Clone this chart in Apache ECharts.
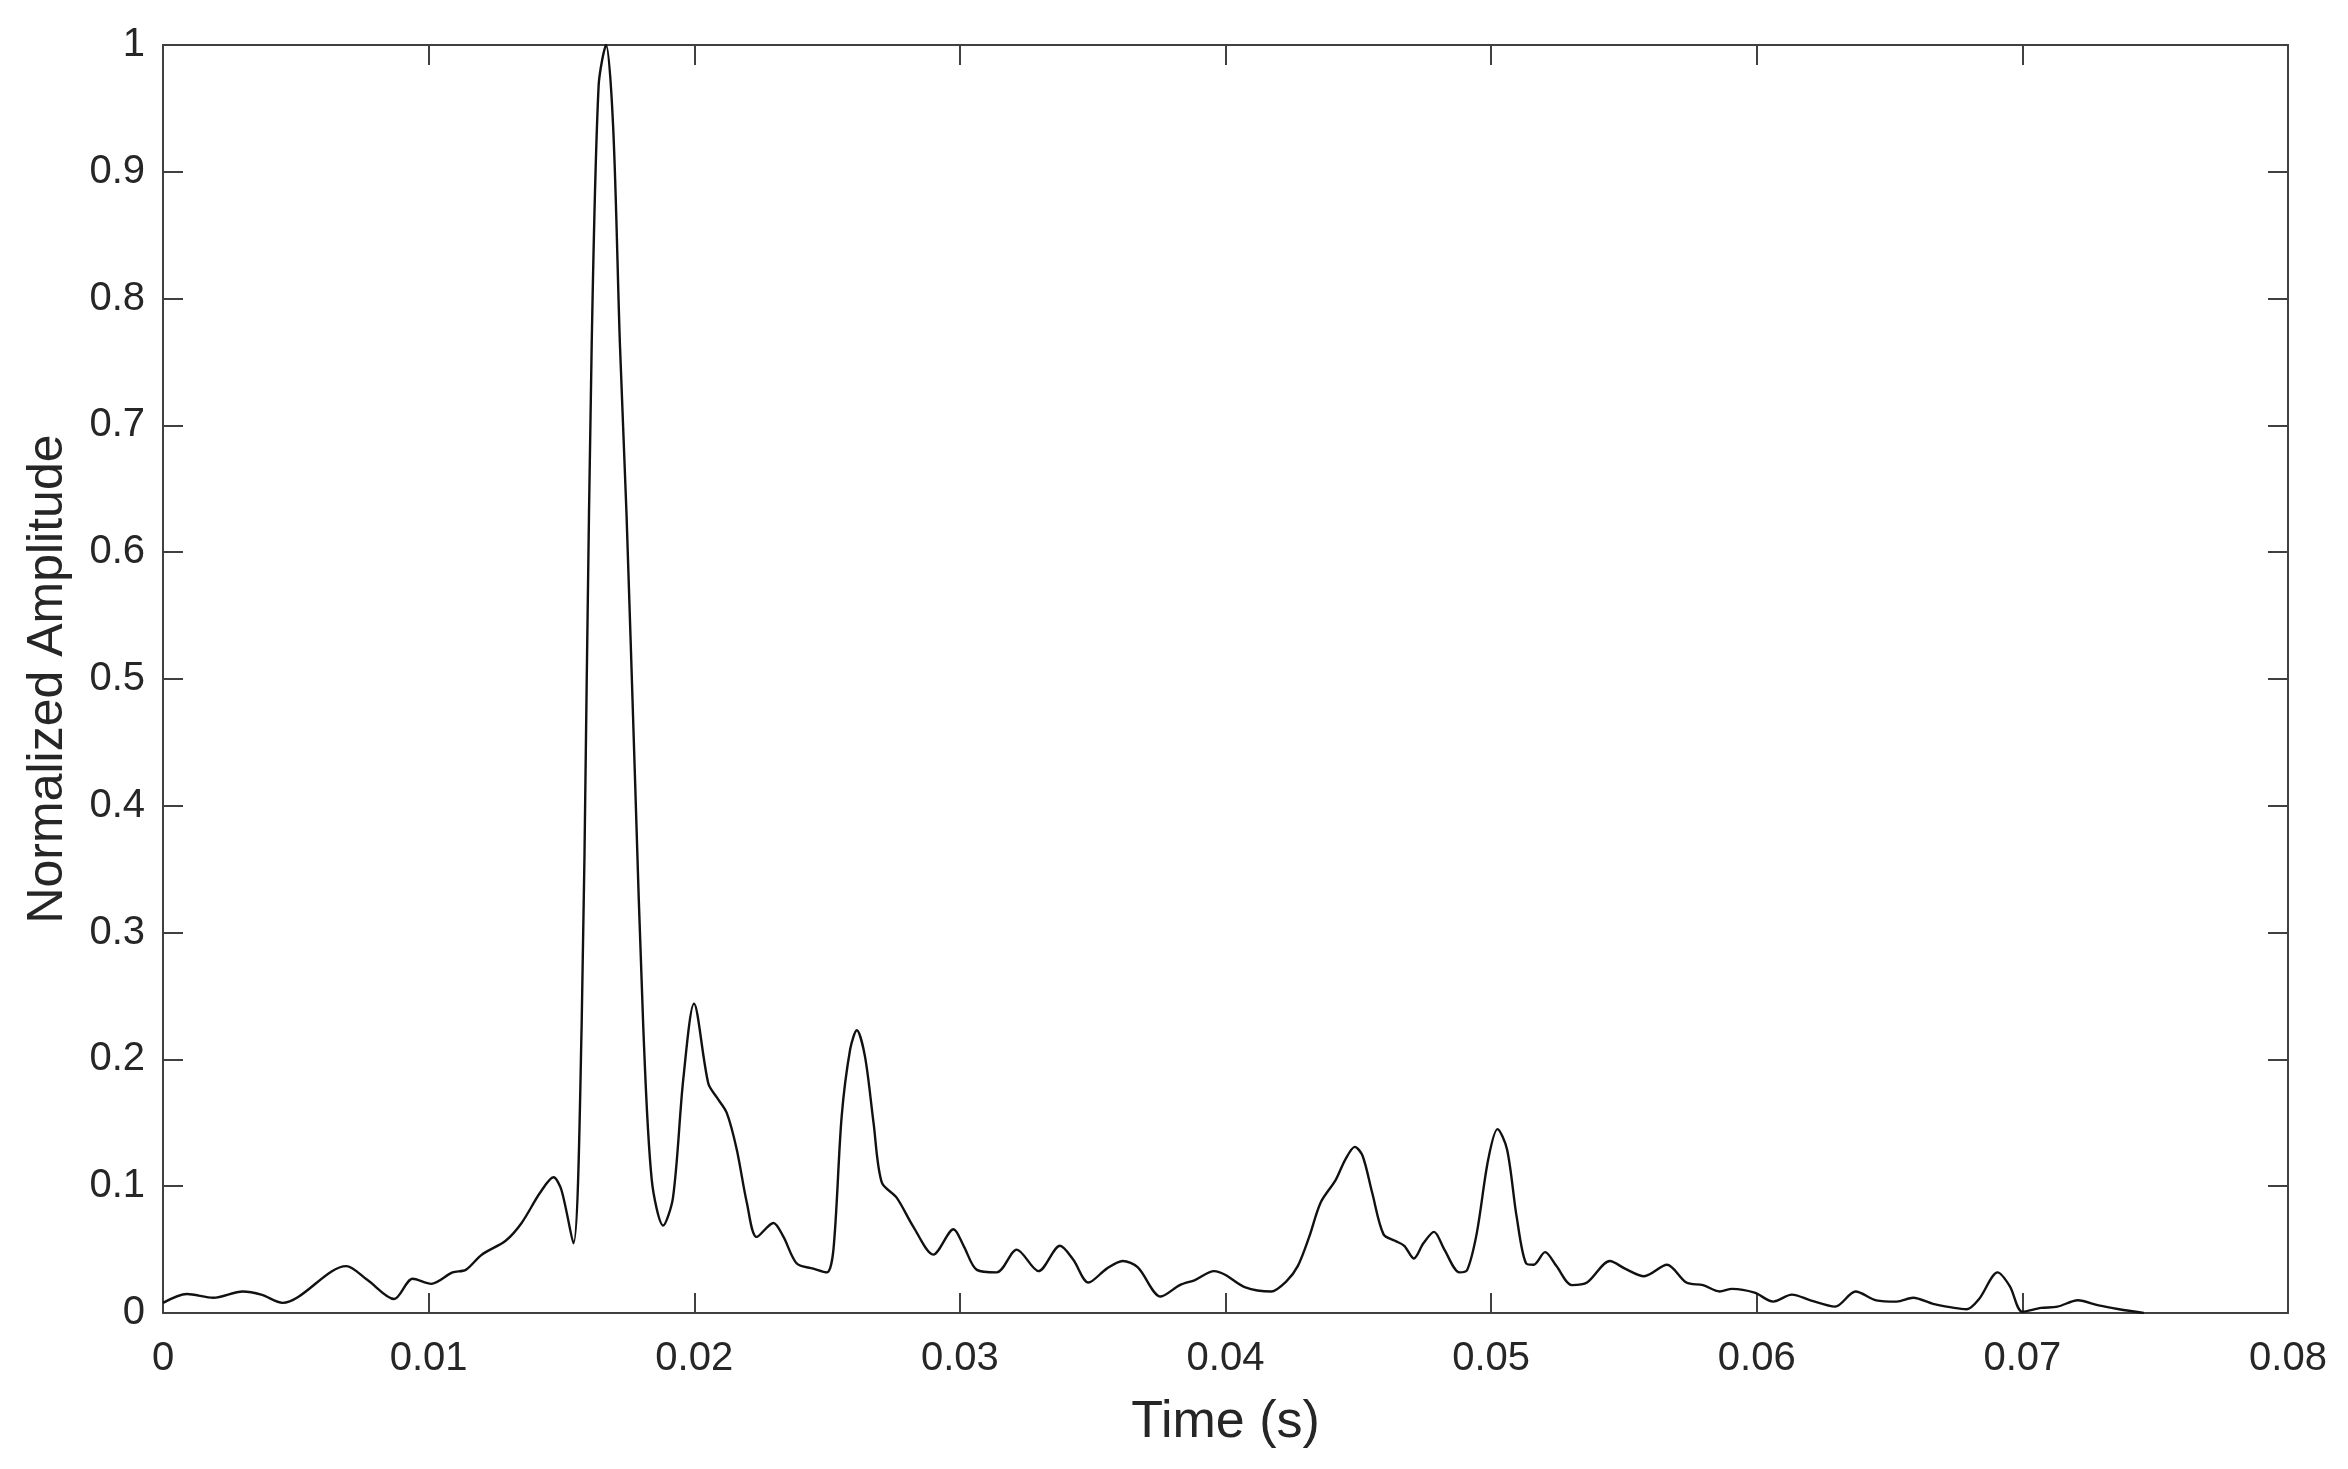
<!DOCTYPE html>
<html>
<head>
<meta charset="utf-8">
<title>Normalized Amplitude</title>
<script src="https://cdn.jsdelivr.net/npm/echarts@6/dist/echarts.min.js"></script>
<style>
  html, body { margin: 0; padding: 0; background: #fff; }
  #chart { width: 2348px; height: 1469px; }
</style>
</head>
<body>
<div id="chart"></div>
<script>
// time (s) of each sample
const timeS = [
  0.0000, 0.0009, 0.0019, 0.0030, 0.0037, 0.0045, 0.0069, 0.0077, 0.0087, 0.0094,
  0.0101, 0.0109, 0.0114, 0.0120, 0.0129, 0.0135, 0.0142, 0.0147, 0.0150, 0.01545,
  0.01576, 0.01595, 0.01614, 0.0164, 0.01668, 0.01695, 0.0172, 0.01745, 0.01776, 0.01808,
  0.0184, 0.01883, 0.0192, 0.01959, 0.01999, 0.02053, 0.02085, 0.02122, 0.0216, 0.02198,
  0.02235, 0.02298, 0.02336, 0.02386, 0.02448, 0.02499, 0.02524, 0.02555, 0.02587, 0.02612,
  0.02643, 0.02675, 0.02706, 0.02762, 0.02825, 0.0290, 0.02976, 0.03014, 0.03064, 0.03139,
  0.03214, 0.03296, 0.03377, 0.03427, 0.03484, 0.03553, 0.03613, 0.0367, 0.03756, 0.03828,
  0.03885, 0.03957, 0.0400, 0.04072, 0.04172, 0.04229, 0.04272, 0.04315, 0.04358, 0.04415,
  0.04451, 0.04487, 0.04516, 0.04552, 0.04595, 0.04638, 0.04673, 0.04709, 0.04745, 0.04785,
  0.04824, 0.04881, 0.0491, 0.04946, 0.04989, 0.05024, 0.0506, 0.05096, 0.05132, 0.0516,
  0.05203, 0.05246, 0.05304, 0.05361, 0.05447, 0.05504, 0.05576, 0.05662, 0.05735, 0.05798,
  0.0586, 0.05907, 0.05992, 0.06062, 0.06132, 0.06202, 0.06295, 0.06372, 0.0645, 0.06527,
  0.06589, 0.06667, 0.06791, 0.06837, 0.06907, 0.06953, 0.0700, 0.0707, 0.07132, 0.07209,
  0.07287, 0.07364, 0.07457
];
// normalized amplitude at those times
const amplitude = [
  0.008, 0.015, 0.012, 0.017, 0.0145, 0.008, 0.037, 0.026, 0.011, 0.027,
  0.023, 0.032, 0.034, 0.046, 0.057, 0.071, 0.095, 0.107, 0.097, 0.055,
  0.226, 0.496, 0.765, 0.968, 1.0, 0.934, 0.765, 0.63, 0.428, 0.226,
  0.105, 0.069, 0.091, 0.185, 0.244, 0.181, 0.170, 0.158, 0.129, 0.087,
  0.060, 0.071, 0.060, 0.039, 0.035, 0.032, 0.05, 0.155, 0.208, 0.223,
  0.202, 0.150, 0.103, 0.091, 0.068, 0.046, 0.066, 0.053, 0.034, 0.032,
  0.050, 0.033, 0.053, 0.042, 0.024, 0.035, 0.041, 0.036, 0.013, 0.022,
  0.026, 0.033, 0.030, 0.0205, 0.017, 0.025, 0.037, 0.060, 0.087, 0.105,
  0.121, 0.131, 0.124, 0.095, 0.062, 0.057, 0.053, 0.043, 0.055, 0.064,
  0.050, 0.032, 0.034, 0.063, 0.121, 0.145, 0.129, 0.076, 0.039, 0.038,
  0.048, 0.037, 0.022, 0.024, 0.041, 0.035, 0.029, 0.038, 0.024, 0.022,
  0.017, 0.019, 0.016, 0.009, 0.0145, 0.010, 0.005, 0.017, 0.010, 0.009,
  0.012, 0.007, 0.003, 0.011, 0.032, 0.021, 0.001, 0.004, 0.005, 0.010,
  0.006, 0.003, 0.0
];
const xTicks = { min: 0, max: 0.08, step: 0.01 };
const yTicks = { min: 0, max: 1, step: 0.1 };

const axisColor = '#404040';
const textColor = '#262626';
const fontFamily = 'Liberation Sans, Arial, sans-serif';

let chart = echarts.init(document.getElementById('chart'));
let seriesData = timeS.map((t, i) => [t, amplitude[i]]);
let fmt = v => String(+v.toFixed(2));

chart.setOption({
  backgroundColor: '#fff',
  animation: false,
  grid: { left: 163, right: 60, top: 45, bottom: 156 },
  xAxis: [
    {
      type: 'value',
      min: xTicks.min, max: xTicks.max, interval: xTicks.step,
      name: 'Time (s)',
      nameLocation: 'middle',
      nameGap: 84,
      nameTextStyle: { fontSize: 52, color: textColor, fontFamily: fontFamily },
      axisLine: { show: true, onZero: false, lineStyle: { color: axisColor, width: 2 } },
      axisTick: { show: true, inside: true, length: 20, lineStyle: { color: axisColor, width: 2 } },
      axisLabel: { fontSize: 40, color: textColor, fontFamily: fontFamily, margin: 26, formatter: fmt },
      splitLine: { show: false }
    },
    {
      type: 'value', position: 'top',
      min: xTicks.min, max: xTicks.max, interval: xTicks.step,
      axisLine: { show: true, onZero: false, lineStyle: { color: axisColor, width: 2 } },
      axisTick: { show: true, inside: true, length: 20, lineStyle: { color: axisColor, width: 2 } },
      axisLabel: { show: false },
      splitLine: { show: false }
    }
  ],
  yAxis: [
    {
      type: 'value',
      min: yTicks.min, max: yTicks.max, interval: yTicks.step,
      name: 'Normalized Amplitude',
      nameLocation: 'middle',
      nameGap: 90,
      nameTextStyle: { fontSize: 50, color: textColor, fontFamily: fontFamily },
      axisLine: { show: true, onZero: false, lineStyle: { color: axisColor, width: 2 } },
      axisTick: { show: true, inside: true, length: 20, lineStyle: { color: axisColor, width: 2 } },
      axisLabel: { fontSize: 40, color: textColor, fontFamily: fontFamily, margin: 18, formatter: fmt },
      splitLine: { show: false }
    },
    {
      type: 'value', position: 'right',
      min: yTicks.min, max: yTicks.max, interval: yTicks.step,
      axisLine: { show: true, onZero: false, lineStyle: { color: axisColor, width: 2 } },
      axisTick: { show: true, inside: true, length: 20, lineStyle: { color: axisColor, width: 2 } },
      axisLabel: { show: false },
      splitLine: { show: false }
    }
  ],
  series: [
    {
      type: 'line',
      data: seriesData,
      xAxisIndex: 0,
      yAxisIndex: 0,
      smooth: 0.3,
      showSymbol: false,
      lineStyle: { color: '#111', width: 2.4 }
    }
  ]
});
</script>
</body>
</html>
